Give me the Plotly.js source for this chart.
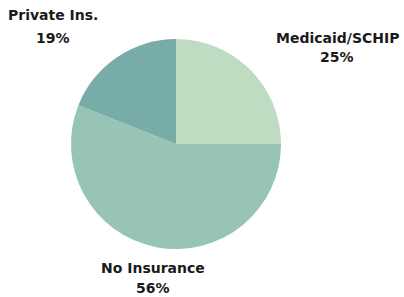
<!DOCTYPE html>
<html><head><meta charset="utf-8">
<script src="https://cdn.plot.ly/plotly-3.0.1.min.js"></script>
<style>html,body{margin:0;padding:0;background:#fff}#chart{width:404px;height:297px}</style>
</head><body><div id="chart"></div>
<script>
var categories = ["Medicaid/SCHIP", "No Insurance", "Private Ins."];
var values = [25, 56, 19];
var colors = ["#bedcc2", "#98c4b5", "#78aca8"];

var W = 404, H = 297;
// label placement (pixel centers of the two text lines)
var labelPos = [
  {x: 337, y1: 38, y2: 57},
  {x: 153, y1: 268, y2: 288},
  {x: 53, y1: 15, y2: 38}
];
var font = {family: "DejaVu Sans, sans-serif", size: 14, color: "#1a1a1a", weight: 700};
var annotations = [];
categories.forEach(function(c, i) {
  var p = labelPos[i];
  annotations.push({text: c, x: p.x / W, y: 1 - p.y1 / H, xref: "paper", yref: "paper",
    xanchor: "center", yanchor: "middle", showarrow: false, font: font});
  annotations.push({text: values[i] + "%", x: p.x / W, y: 1 - p.y2 / H, xref: "paper", yref: "paper",
    xanchor: "center", yanchor: "middle", showarrow: false, font: font});
});

Plotly.newPlot("chart", [{
  type: "pie", labels: categories, values: values, sort: false,
  direction: "clockwise", rotation: 0, textinfo: "none", hoverinfo: "none",
  marker: {colors: colors, line: {width: 0}},
  domain: {x: [71 / W, 281 / W], y: [1 - 249 / H, 1 - 39 / H]}
}], {
  width: W, height: H, margin: {l: 0, r: 0, t: 0, b: 0},
  showlegend: false, paper_bgcolor: "#fff", annotations: annotations
}, {staticPlot: true});
</script></body></html>
